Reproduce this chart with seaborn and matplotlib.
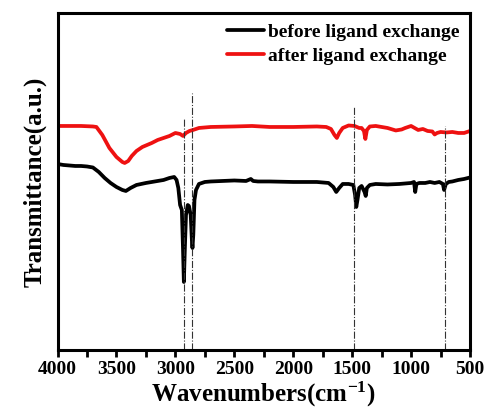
import numpy as np
import pandas as pd
import matplotlib
matplotlib.use("Agg")
import matplotlib.pyplot as plt
from matplotlib.ticker import MultipleLocator
import seaborn as sns

# ---- data (arbitrary transmittance units) ----
wn_after = [4000, 3800, 3700, 3670, 3620, 3560, 3500, 3450, 3430, 3400, 3370, 3330, 3280, 3200,
            3150, 3100, 3050, 3000, 2960, 2935, 2910, 2880, 2850, 2800, 2700, 2500, 2350, 2200,
            2000, 1800, 1720, 1680, 1650, 1630, 1610, 1580, 1530, 1480, 1440, 1420, 1400, 1388,
            1375, 1350, 1300, 1250, 1200, 1130, 1080, 1050, 1000, 970, 940, 900, 860, 820, 800,
            780, 750, 700, 650, 600, 550, 500]
t_after = [224, 224, 223.5, 223, 215, 202, 193, 188, 187, 189, 194, 199, 203, 207,
           210, 212, 214, 217, 216, 214, 217, 219, 220, 222, 223, 223.5, 224, 223,
           223, 223.5, 223, 221, 215, 212, 217, 222, 224.5, 224, 222, 222, 219, 211,
           220, 223.5, 224, 223, 222, 219.5, 220.5, 222, 224, 222, 220, 221, 219, 218.5, 215.5,
           217, 218, 217.5, 218, 217, 217, 219]

wn_before = [4000, 3950, 3900, 3850, 3800, 3750, 3700, 3650, 3600, 3550, 3500, 3450, 3420, 3380,
             3330, 3250, 3200, 3150, 3100, 3050, 3010, 2990, 2975, 2960, 2945, 2935, 2928, 2920,
             2910, 2895, 2885, 2870, 2860, 2855, 2848, 2838, 2825, 2800, 2750, 2700, 2600, 2500,
             2400, 2360, 2340, 2300, 2200, 2000, 1800, 1700, 1660, 1635, 1610, 1580, 1530, 1490,
             1475, 1465, 1455, 1440, 1420, 1395, 1385, 1375, 1350, 1300, 1200, 1100, 1000, 975,
             965, 955, 930, 880, 840, 800, 760, 730, 720, 705, 680, 650, 600, 550, 500]
t_before = [186, 185, 184.5, 184, 184, 183.5, 182.5, 178, 172, 167, 163, 160, 159, 162,
            165, 167, 168, 169, 170, 172, 173, 170, 162, 145, 140, 100, 68, 100,
            135, 145, 144, 135, 110, 102, 115, 150, 160, 166, 168, 168.5, 169, 169.5,
            169, 171, 169, 168.5, 168.5, 168, 168, 167, 163, 158, 162, 166, 166, 165,
            155, 143, 150, 162, 164, 158, 154, 162, 165, 166, 165.5, 166, 167, 168,
            158, 166, 167, 167, 168, 167, 168, 166, 160, 166, 168, 168.5, 170, 171, 172.5]

series_names = ["before ligand exchange", "after ligand exchange"]
marker_wn = [2925, 2855, 1487, 714]
marker_top = [232, 257, 243, 224]

df = pd.concat([
    pd.DataFrame({"wn": wn_before, "T": t_before, "sample": series_names[0]}),
    pd.DataFrame({"wn": wn_after, "T": t_after, "sample": series_names[1]}),
])

sns.set_style("ticks")
plt.rcParams["font.family"] = ["Liberation Serif", "DejaVu Serif"]
plt.rcParams["font.weight"] = "bold"
plt.rcParams["mathtext.fontset"] = "custom"
plt.rcParams["mathtext.rm"] = "Liberation Serif:bold"
plt.rcParams["mathtext.bf"] = "Liberation Serif:bold"
plt.rcParams["mathtext.it"] = "Liberation Serif:bold"

fig = plt.figure(figsize=(4.85, 4.09), dpi=100)
ax = fig.add_axes([0.1186, 0.1443, 0.8505, 0.8240])

sns.lineplot(data=df, x="wn", y="T", hue="sample", hue_order=series_names,
             palette=["black", "#ee1111"], linewidth=2.7, sort=False,
             estimator=None, ax=ax)

ax.vlines(marker_wn, 0, marker_top, colors="#333333", linestyles="dashdot", linewidth=0.8)

ax.set_xlim(4000, 500)
ax.set_ylim(0, 337)
ax.xaxis.set_major_locator(MultipleLocator(500))
ax.xaxis.set_minor_locator(MultipleLocator(250))
ax.set_yticks([])
ax.tick_params(axis="x", which="both", direction="out", width=2, length=5,
               labelsize=14, pad=3, color="black", labelcolor="black")
for lbl in ax.get_xticklabels():
    lbl.set_fontweight("bold")
for s in ax.spines.values():
    s.set_linewidth(2.2)
    s.set_color("black")
    s.set_visible(True)

ax.set_xlabel("Wavenumbers(cm$^{\\mathbf{-1}}$)", fontsize=18, fontweight="bold",
              labelpad=1, color="black")
ax.set_ylabel("Transmittance(a.u.)", fontsize=18, fontweight="bold", labelpad=8, color="black")

leg = ax.legend(loc="upper right", frameon=False, prop={"weight": "bold", "size": 14},
                handlelength=1.9, handletextpad=0.2, labelspacing=0.3,
                borderaxespad=0.15, title=None)
for line in leg.get_lines():
    line.set_linewidth(2.7)
for t in leg.get_texts():
    t.set_color("black")

fig.savefig("out.png", dpi=100)
